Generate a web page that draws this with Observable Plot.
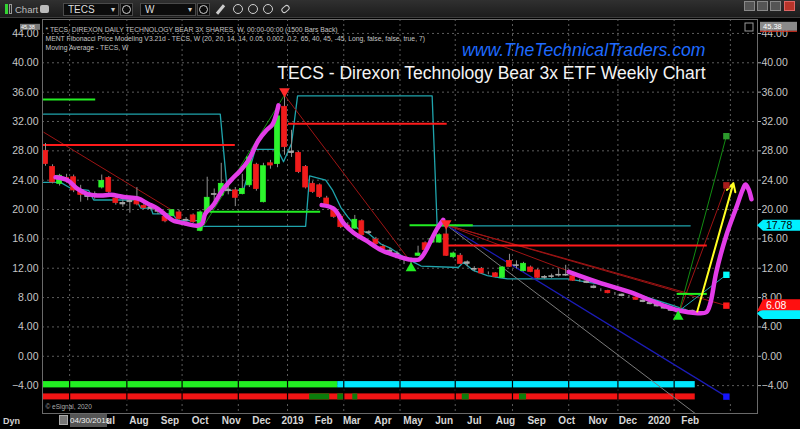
<!DOCTYPE html>
<html><head><meta charset="utf-8">
<script src="https://cdn.jsdelivr.net/npm/d3@7"></script>
<script src="https://cdn.jsdelivr.net/npm/@observablehq/plot@0.6"></script>
<style>
html,body{margin:0;padding:0;background:#000;width:800px;height:429px;overflow:hidden;font-family:"Liberation Sans",Arial,sans-serif;}
#wrap{position:relative;width:800px;height:429px;}
#tb{position:absolute;left:0;top:0;width:800px;height:18px;background:linear-gradient(#303030,#1c1c1c);box-sizing:border-box;border-bottom:1px solid #3c3c3c;}
#tb div{position:absolute;box-sizing:border-box;}
.dd{top:3px;height:13px;background:#0c0c0c;border:1px solid #4a4a4a;color:#ddd;font-size:10px;line-height:11px;padding-left:4px;}
.dd b{position:absolute;right:3px;top:0;font-size:8px;color:#ccc;font-weight:normal}
.bt{top:3px;width:13px;height:13px;background:#0c0c0c;border:1px solid #4a4a4a;}
.ci{width:10px;height:10px;top:4px;border:1.5px solid #d0d0d0;border-radius:50%;}
.wb{top:1px;width:11px;height:10px;background:#555;border:1px solid #888;}
#chart{position:absolute;left:0;top:18px;}
.ov{position:absolute;}
</style></head>
<body><div id="wrap">
<div id="tb">
  <div style="left:5px;top:4px;width:3px;height:10px;background:#33d433"></div>
  <div style="left:9px;top:4px;width:3px;height:10px;border:1px solid #999"></div>
  <div style="left:15px;top:4px;color:#bdbdbd;font-size:9.5px">Chart</div>
  <div style="left:40px;top:5px;width:9px;height:8px;background:#bbb;border-radius:2px"></div>
  <div class="dd" style="left:63px;width:56px">TECS<b>&#9662;</b></div>
  <div class="bt" style="left:120px"><div class="ci" style="left:1px;top:1px;width:9px;height:9px"></div></div>
  <div class="dd" style="left:140px;width:56px">W<b>&#9662;</b></div>
  <div class="bt" style="left:197px"><div class="ci" style="left:1px;top:1px;width:9px;height:9px"></div></div>
  <div style="left:219px;top:4px;width:3px;height:11px;background:#ccc;transform:rotate(40deg)"></div>
  <div class="ci" style="left:233px"></div>
  <div class="ci" style="left:248px"></div>
  <div class="ci" style="left:263px"></div>
  <div style="left:281px;top:6px;width:9px;height:6px;border:1.5px solid #ccc;border-radius:3px;transform:rotate(-40deg)"></div>
  <div class="wb" style="left:744px"></div>
  <div class="wb" style="left:757px"></div>
  <div class="wb" style="left:770px"></div>
  <div class="wb" style="left:784px;background:#b8342a;border-color:#d66"></div>
</div>
<div id="chart"></div>
<div class="ov" style="left:3px;top:416px;color:#cfcfcf;font-size:9px;font-weight:bold">Dyn</div>
<div class="ov" style="left:59px;top:415px;width:9px;height:10px;background:#777;border:1px solid #aaa;box-sizing:border-box"></div>
<div class="ov" style="left:70px;top:414px;width:37px;height:13px;background:#555;color:#eee;font-size:8px;line-height:13px;text-align:center">04/30/2018</div>
</div>
<script>
// ---------- data ----------
const weeks = ["2018-04-30","2018-05-07","2018-05-14","2018-05-21","2018-05-28","2018-06-04","2018-06-11","2018-06-18","2018-06-25","2018-07-02","2018-07-09","2018-07-16","2018-07-23","2018-07-30","2018-08-06","2018-08-13","2018-08-20","2018-08-27","2018-09-03","2018-09-10","2018-09-17","2018-09-24","2018-10-01","2018-10-08","2018-10-15","2018-10-22","2018-10-29","2018-11-05","2018-11-12","2018-11-19","2018-11-26","2018-12-03","2018-12-10","2018-12-17","2018-12-24","2018-12-31","2019-01-07","2019-01-14","2019-01-21","2019-01-28","2019-02-04","2019-02-11","2019-02-18","2019-02-25","2019-03-04","2019-03-11","2019-03-18","2019-03-25","2019-04-01","2019-04-08","2019-04-15","2019-04-22","2019-04-29","2019-05-06","2019-05-13","2019-05-20","2019-05-27","2019-06-03","2019-06-10","2019-06-17","2019-06-24","2019-07-01","2019-07-08","2019-07-15","2019-07-22","2019-07-29","2019-08-05","2019-08-12","2019-08-19","2019-08-26","2019-09-02","2019-09-09","2019-09-16","2019-09-23","2019-09-30","2019-10-07","2019-10-14","2019-10-21","2019-10-28","2019-11-04","2019-11-11","2019-11-18","2019-11-25","2019-12-02","2019-12-09","2019-12-16","2019-12-23","2019-12-30","2020-01-06","2020-01-13","2020-01-20","2020-01-27","2020-02-03"];
const open = [28.0,25.8,23.5,24.3,24.4,22.5,21.9,21.8,23.0,24.3, 21.5,20.9,21.2,21.5,20.5,20.3,19.9,19.0,19.1,19.6, 18.6,19.2,17.1,19.6,22.0,21.9,22.5,22.6,22.1,23.3, 26.1,21.0,26.3,26.2,34.0,27.9,27.7,25.8,23.5,23.3, 21.5,20.1,19.0,17.8,17.4,18.4,16.9,15.9,14.9,14.4, 14.0,13.4,13.1,13.7,15.4,15.5,15.5,16.6,13.5,13.7, 12.6,11.8,11.9,11.3,11.3,10.7,13.0,12.3,11.6,12.1, 11.7,10.7,10.8,11.0,11.0,10.9,10.3,10.2,9.5,9.0, 8.9,8.5,8.4,8.1,8.0,7.6,7.3,7.0,6.7,6.4, 6.1,6.0,6.2];
const high = [29.0,26.1,24.8,24.8,24.7,23.3,22.3,22.4,24.7,24.5, 22.0,21.3,21.8,23.0,20.9,20.6,20.2,19.3,20.0,19.9, 18.9,19.4,19.8,24.4,22.8,26.3,23.2,23.0,24.8,27.3, 26.3,26.3,26.7,33.1,35.5,30.8,27.9,26.0,23.8,23.5, 21.8,20.4,19.3,18.2,19.2,18.6,17.1,16.2,15.2,14.7, 14.3,13.6,13.4,15.0,15.6,16.3,16.7,17.9,14.2,14.0, 13.0,12.2,12.1,11.5,11.4,12.2,13.9,13.0,12.8,12.3, 11.9,11.0,11.2,11.9,12.4,11.1,10.5,10.4,9.7,9.2, 9.0,8.7,8.5,8.3,8.1,7.8,7.5,7.2,6.9,6.6, 6.3,6.4,6.3];
const low = [25.9,23.5,23.2,23.6,22.3,21.0,21.2,21.4,22.8,22.2, 20.6,20.3,19.5,20.5,20.0,19.8,19.3,18.2,19.0,18.5, 18.3,18.1,17.0,19.5,21.2,21.8,22.0,20.4,22.0,23.0, 22.5,20.9,25.5,25.7,27.4,27.1,24.9,22.8,22.2,21.5, 20.4,18.8,17.4,17.2,17.3,16.3,16.6,15.1,14.4,13.9, 13.7,12.5,12.5,13.6,14.4,15.4,15.4,13.6,13.3,12.5, 12.2,11.5,11.2,11.1,10.7,10.6,12.1,11.9,11.5,11.4, 10.6,10.5,10.6,10.8,10.9,10.2,10.1,9.9,9.2,8.8, 8.5,8.3,8.1,7.9,7.6,7.3,7.0,6.7,6.4,6.1, 5.8,5.9,5.9];
const close = [26.2,23.7,24.6,24.0,22.6,22.0,21.7,22.1,23.9,22.4, 20.9,20.7,21.0,20.7,20.2,20.1,19.7,18.4,19.9,18.7, 18.5,18.3,19.6,21.6,22.1,23.5,22.7,21.6,22.8,27.1, 22.8,25.9,26.0,32.7,28.5,27.7,25.1,23.0,22.4,21.7, 20.6,19.0,17.6,17.5,18.6,16.5,16.8,15.3,14.6,14.2, 13.9,13.2,13.0,14.0,14.5,16.0,16.5,13.7,14.0,12.6, 12.8,11.9,11.3,11.3,10.8,12.1,12.2,12.4,12.6,11.5, 10.7,10.8,10.9,11.1,11.1,10.3,10.3,10.0,9.3,9.0, 8.6,8.5,8.2,8.1,7.7,7.4,7.1,6.8,6.5,6.2, 6.0,6.2,6.08];

// hand-drawn magenta path (3 strokes)
const magenta1 = [["2018-05-10",24.4],["2018-05-22",24.0],["2018-06-01",22.8],["2018-06-11",22.1],["2018-06-24",21.9],["2018-07-04",22.0],["2018-07-17",21.7],["2018-07-31",21.5],["2018-08-10",20.8],["2018-08-20",20.1],["2018-08-28",19.2],["2018-09-04",18.5],["2018-09-16",18.1],["2018-09-28",17.8],["2018-10-03",18.1],["2018-10-06",19.4],["2018-10-14",20.6],["2018-10-23",22.6],["2018-11-02",24.2],["2018-11-10",25.3],["2018-11-18",26.7],["2018-11-28",29.4],["2018-12-06",30.8],["2018-12-12",31.6],["2018-12-15",32.6],["2018-12-18",34.2]];
const magenta2 = [["2019-01-30",20.6],["2019-02-11",20.1],["2019-02-21",18.1],["2019-03-03",16.8],["2019-03-15",15.8],["2019-03-30",14.5],["2019-04-14",13.7],["2019-04-27",13.2],["2019-05-07",13.2],["2019-05-13",14.2],["2019-05-19",15.8],["2019-05-25",17.4],["2019-05-31",18.6]];
const magenta3 = [["2019-10-03",11.5],["2019-11-01",10.1],["2019-12-04",8.7],["2019-12-24",7.6],["2020-01-08",6.8],["2020-01-22",6.2],["2020-02-06",5.9],["2020-02-17",6.0],["2020-02-21",7.2],["2020-02-27",11.5],["2020-03-08",16.5],["2020-03-18",20.3],["2020-03-24",22.6],["2020-03-27",23.4],["2020-03-30",22.8],["2020-04-02",21.4]];

// stop / channel lines (teal)
const stopUpper = [["2018-04-28",33.0],["2018-10-21",33.0],["2018-10-28",22.6],["2018-11-13",22.6],["2018-11-25",28.2],["2018-12-17",28.2],["2018-12-23",26.5],["2018-12-31",29.0],["2019-01-06",35.5],["2019-05-20",35.5],["2019-05-25",17.78],["2020-02-01",17.78]];
const stopLower = [["2018-04-28",23.7],["2018-05-15",23.7],["2018-05-25",22.9],["2018-06-12",22.6],["2018-06-17",21.3],["2018-07-29",21.3],["2018-08-03",20.2],["2018-08-13",20.2],["2018-08-15",19.4],["2018-09-03",19.4],["2018-09-09",18.5],["2018-09-28",18.5],["2018-10-03",17.7],["2019-01-14",17.7],["2019-01-18",24.6],["2019-02-03",24.0],["2019-02-10",22.6],["2019-02-18",20.3],["2019-02-25",19.0],["2019-03-07",17.4],["2019-03-18",16.7],["2019-03-30",15.3],["2019-04-09",14.7],["2019-04-22",13.5],["2019-05-02",12.8],["2019-05-09",12.3],["2019-06-15",12.1],["2019-06-20",12.8],["2019-06-30",11.7],["2019-07-14",11.0],["2019-07-27",10.7],["2019-08-03",10.55],["2019-10-02",10.55],["2019-11-04",9.8],["2019-12-14",8.3],["2020-01-13",7.0],["2020-02-04",6.0]];

// horizontal levels
const resistanceLevels = [{from:"2018-04-28",to:"2018-11-05",value:28.8},{from:"2018-12-28",to:"2019-06-04",value:31.7},{from:"2019-06-04",to:"2020-02-18",value:15.1}];
const supportLevels = [{from:"2018-04-28",to:"2018-06-19",value:35.0},{from:"2018-10-11",to:"2019-01-29",value:19.7},{from:"2019-04-28",to:"2019-06-30",value:17.85},{from:"2020-01-19",to:"2020-02-18",value:8.5}];

// trend / projection lines
const bearLines = [
  {from:"2018-04-28",v1:30.55,to:"2018-09-03",v2:19.9},
  {from:"2018-12-24",v1:35.6,to:"2019-04-29",v2:12.8},
  {from:"2019-06-03",v1:17.9,to:"2019-10-03",v2:11.6},
  {from:"2019-06-03",v1:17.9,to:"2020-02-01",v2:8.5},
  {from:"2019-06-03",v1:17.9,to:"2020-03-08",v2:6.9},
  {from:"2020-01-20",v1:5.6,to:"2020-03-08",v2:23.3}];
const bullLines = [
  {from:"2018-10-01",v1:17.0,to:"2018-12-24",v2:35.6},
  {from:"2020-01-20",v1:5.6,to:"2020-03-08",v2:30.0}];
const blueLines = [{from:"2019-06-03",v1:17.9,to:"2020-03-08",v2:-5.5}];
const grayLines = [{from:"2019-06-03",v1:17.9,to:"2020-02-06",v2:-7.8}];
const tealLines = [{from:"2020-01-20",v1:6.1,to:"2020-03-08",v2:11.1}];
const upArrow = [{from:"2020-02-08",v1:6.1,to:"2020-03-15",v2:23.6}];

// markers
const peakMarks = [{date:"2018-12-24",value:36.1},{date:"2019-06-03",value:18.1}];
const troughMarks = [{date:"2019-04-29",value:12.0},{date:"2020-01-20",value:5.4}];
const targets = [{date:"2020-03-08",value:30.0,level:"T1"},{date:"2020-03-08",value:23.3,level:"T2"},{date:"2020-03-08",value:11.1,level:"T3"},{date:"2020-03-08",value:6.9,level:"T4"},{date:"2020-03-08",value:-5.5,level:"T5"}];

// signal bars
const signalTop = [{from:"2018-04-28",to:"2019-02-15",state:"long"},{from:"2019-02-15",to:"2020-02-06",state:"neutral"}];
const signalBottom = [{from:"2018-04-28",to:"2020-02-06",state:"weak"},{from:"2019-01-18",to:"2019-02-07",state:"strong"},{from:"2019-02-15",to:"2019-02-21",state:"strong"},{from:"2019-03-02",to:"2019-03-07",state:"strong"},{from:"2019-06-19",to:"2019-06-26",state:"strong"},{from:"2019-08-15",to:"2019-08-22",state:"strong"}];

// axes
const yTicks = [-4,0,4,8,12,16,20,24,28,32,36,40,44];
const gridDates = ["2018-05-24","2018-07-20","2018-09-13","2018-11-08","2018-12-27","2019-02-21","2019-04-18","2019-06-12","2019-08-08","2019-10-03","2019-11-21","2020-01-16","2020-03-12"];
const monthTicks = ["2018-07-01","2018-08-01","2018-09-01","2018-10-01","2018-11-01","2018-12-01","2019-01-01","2019-02-01","2019-03-01","2019-04-01","2019-05-01","2019-06-01","2019-07-01","2019-08-01","2019-09-01","2019-10-01","2019-11-01","2019-12-01","2020-01-01","2020-02-01"];
const monthLabels = ["Jul","Aug","Sep","Oct","Nov","Dec","2019","Feb","Mar","Apr","May","Jun","Jul","Aug","Sep","Oct","Nov","Dec","2020","Feb"];

const headerLines = ["* TECS, DIREXON DAILY TECHNOLOGY BEAR 3X SHARES, W, 00:00-00:00 (1500 Bars Back)","MENT Fibonacci Price Modeling V3.21d - TECS, W (20, 20, 14, 14, 0.05, 0.002, 0.2, 65, 40, 45, -45, Long, false, false, true, 7)","Moving Average - TECS, W"];
const siteText = "www.TheTechnicalTraders.com";
const titleText = "TECS - Direxon Technology Bear 3x ETF Weekly Chart";
const lastPrice = 6.08, stopPrice = 17.78, topPrice = 45.38;

// ---------- chart ----------
const D = s => new Date(s);
const candles = weeks.map((w,i)=>({date:D(w),o:open[i],h:high[i],l:low[i],c:close[i]}));
const half = 2.4*864e5;
const bodyColor = d => d.c-d.o>0.25 ? "#2cf52c" : d.o-d.c>0.25 ? "#f01c1c" : "#a8a8a8";
const stateColor = {long:"#22ee22",neutral:"#00e8ff",weak:"#f21414",strong:"#0b7d0b"};
const targetColor = {T1:"#2c9a2c",T2:"#a81c1c",T3:"#00ffff",T4:"#ff1a1a",T5:"#1414ff"};
const lbl = new Map(monthTicks.map((m,i)=>[+D(m),monthLabels[i]]));
const linkOpts = (stroke,w)=>({x1:d=>D(d.from),y1:"v1",x2:d=>D(d.to),y2:"v2",stroke,strokeWidth:w});
const pts = arr => arr.map(([d,v])=>({date:D(d),value:v}));
const magOpts = {x:"date",y:"value",stroke:"#e33ce8",strokeWidth:4.5,curve:"catmull-rom",strokeLinecap:"round",strokeLinejoin:"round"};

const chart = Plot.plot({
  width:800, height:411,
  marginLeft:42, marginRight:43, marginTop:1, marginBottom:16,
  style:{background:"#000",color:"#c8c8c8",fontFamily:"Liberation Sans, Arial, sans-serif",overflow:"visible"},
  x:{type:"utc",domain:[D("2018-04-27"),D("2020-04-08")],axis:null},
  y:{domain:[-7.8,45.9],axis:null},
  marks:[
    Plot.gridY(yTicks,{stroke:"#5c5c5c",strokeOpacity:1,strokeDasharray:"2,3"}),
    Plot.gridX(gridDates.map(D),{stroke:"#5c5c5c",strokeOpacity:1,strokeDasharray:"2,3"}),
    Plot.rect(signalTop,{x1:d=>D(d.from),x2:d=>D(d.to),y1:()=>-3.45,y2:()=>-4.31,fill:d=>stateColor[d.state]}),
    Plot.rect(signalBottom,{x1:d=>D(d.from),x2:d=>D(d.to),y1:()=>-5.13,y2:()=>-5.95,fill:d=>stateColor[d.state]}),
    Plot.ruleX(gridDates.map(D),{y1:-3.2,y2:-6.2,stroke:"#000",strokeWidth:1.2}),
    Plot.line(pts(stopUpper),{x:"date",y:"value",stroke:"#1fa4ac",strokeWidth:1.3}),
    Plot.line(pts(stopLower),{x:"date",y:"value",stroke:"#1fa4ac",strokeWidth:1.3}),
    Plot.link(grayLines,linkOpts("#7a7a7a",1)),
    Plot.link(blueLines,linkOpts("#1c1cb8",1.2)),
    Plot.link(bearLines,linkOpts("#9e1414",1)),
    Plot.link(bullLines,linkOpts("#128c12",1)),
    Plot.link(tealLines,linkOpts("#1fa4ac",1)),
    Plot.ruleY(resistanceLevels,{y:"value",x1:d=>D(d.from),x2:d=>D(d.to),stroke:"#ff1a1a",strokeWidth:2}),
    Plot.ruleY(supportLevels,{y:"value",x1:d=>D(d.from),x2:d=>D(d.to),stroke:"#22ee22",strokeWidth:2}),
    Plot.ruleX(candles,{x:"date",y1:"l",y2:"h",stroke:"#8e8e8e",strokeWidth:1}),
    Plot.rect(candles,{x1:d=>new Date(+d.date-half),x2:d=>new Date(+d.date+half),y1:d=>Math.min(d.o,d.c),y2:d=>Math.max(d.o,d.c),fill:bodyColor,stroke:bodyColor,strokeWidth:0.8}),
    Plot.line(pts(magenta1),magOpts),
    Plot.line(pts(magenta2),magOpts),
    Plot.line(pts(magenta3),magOpts),
    Plot.arrow(upArrow,{x1:d=>D(d.from),y1:"v1",x2:d=>D(d.to),y2:"v2",stroke:"#ffff22",strokeWidth:2,headLength:7,headAngle:55}),
    Plot.dot(peakMarks,{x:d=>D(d.date),y:"value",symbol:"triangle",r:4,rotate:180,fill:"#ff2a2a"}),
    Plot.dot(troughMarks,{x:d=>D(d.date),y:"value",symbol:"triangle",r:4,fill:"#22ee22"}),
    Plot.dot(targets,{x:d=>D(d.date),y:"value",symbol:"square",r:3.6,fill:d=>targetColor[d.level]}),
    Plot.text(headerLines,{frameAnchor:"top-left",textAnchor:"start",dx:3,text:d=>d,fill:"#c4c4c4",fontSize:6.8}),
    Plot.text([siteText],{frameAnchor:"top-right",textAnchor:"end",dx:-52,dy:24,text:d=>d,fill:"#1f6bff",fontSize:17.6,fontStyle:"italic"}),
    Plot.text([titleText],{frameAnchor:"top-right",textAnchor:"end",dx:-52,dy:47,text:d=>d,fill:"#f4f4f4",fontSize:17.5}),
    Plot.text(["© eSignal, 2020"],{frameAnchor:"bottom-left",textAnchor:"start",dx:3,dy:-5,text:d=>d,fill:"#aaa",fontSize:6.5}),
    Plot.frame({stroke:"#6a6a6a"}),
    Plot.axisY(yTicks,{anchor:"left",tickSize:0,tickPadding:4,tickFormat:d3.format(".2f"),fontSize:10.5,fill:"#c6c6c6"}),
    Plot.axisY(yTicks,{anchor:"right",tickSize:3,tickPadding:1,tickFormat:d3.format(".2f"),fontSize:10.5,fill:"#c6c6c6",stroke:"#aaa"}),
    Plot.axisX(monthTicks.map(D),{anchor:"bottom",tickSize:0,tickPadding:3,tickFormat:d=>lbl.get(+d),fontSize:10,fontWeight:"bold",fill:"#d6d6d6"})
  ]
});
document.getElementById("chart").appendChild(chart);

// header lines: place on separate rows
d3.select(chart).selectAll("text").filter(function(){return headerLines.includes(this.textContent);})
  .each(function(){const i=headerLines.indexOf(this.textContent);d3.select(this).attr("y",12+9*i).attr("dy",null);});

// price tags using the y scale
const ys = chart.scale("y");
const svg = d3.select(chart);
const g = svg.append("g").attr("font-family","Liberation Sans, Arial, sans-serif").attr("text-anchor","start");
function tag(cv, pv, txt, bg, fg){
  const yc = ys.apply(cv), yp = ys.apply(pv);
  g.append("path").attr("d",`M757,${yp}L763,${yc-5.5}L800,${yc-5.5}L800,${yc+5.5}L763,${yc+5.5}Z`).attr("fill",bg);
  if (txt) g.append("text").attr("x",766).attr("y",yc).attr("dy","0.36em").attr("font-size",10.5).attr("fill",fg).text(txt);
}
tag(stopPrice, stopPrice, d3.format(".2f")(stopPrice), "#00f0ff", "#000");
tag(5.75, 5.75, "", "#00f0ff", "#000");
tag(6.95, lastPrice, d3.format(".2f")(lastPrice), "#ff1010", "#fff");
// top price boxes (drawn over the 44.00 labels as in the original)
const yt = ys.apply(topPrice);
g.append("rect").attr("x",760).attr("y",yt-1).attr("width",37).attr("height",9).attr("fill","#8a8a8a");
g.append("line").attr("x1",760).attr("x2",797).attr("y1",yt+8.5).attr("y2",yt+8.5).attr("stroke","#e03020");
g.append("text").attr("x",763).attr("y",yt+3.5).attr("dy","0.35em").attr("font-size",7.5).attr("fill","#fff").text(d3.format(".2f")(topPrice));
g.append("rect").attr("x",20).attr("y",yt+1).attr("width",20).attr("height",6).attr("fill","#7a7a7a");
g.append("text").attr("x",21).attr("y",yt+4).attr("dy","0.35em").attr("font-size",5.5).attr("fill","#fff").text(d3.format(".2f")(topPrice));
g.append("rect").attr("x",745).attr("y",5).attr("width",8).attr("height",8).attr("fill","none").attr("stroke","#999");
</script>
</body></html>
